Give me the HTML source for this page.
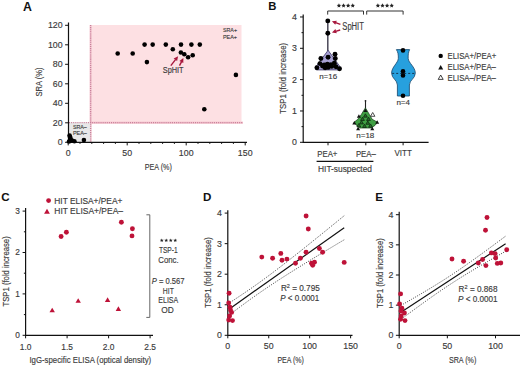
<!DOCTYPE html>
<html><head><meta charset="utf-8"><style>
html,body{margin:0;padding:0;background:#fff;width:520px;height:366px;overflow:hidden}
svg{display:block;font-family:"Liberation Sans", sans-serif}
text{stroke:currentColor;stroke-width:0.15px;paint-order:stroke}
text[font-weight=bold]{stroke-width:0}
</style></head><body>
<svg width="520" height="366" viewBox="0 0 520 366">
<rect width="520" height="366" fill="#fff"/>
<text x="22.90" y="10.50" font-size="12.3" fill="#111" color="#111" font-weight="bold" >A</text>
<rect x="90" y="25" width="151.5" height="98.6" fill="#fde0e3"/>
<rect x="90" y="121.6" width="153" height="2.2" fill="#f4c6d0"/>
<rect x="89.6" y="25" width="2" height="117" fill="#f4c6d0"/>
<rect x="68.5" y="122.5" width="22" height="19.8" fill="#e8e8e8"/>
<line x1="90.60" y1="25.00" x2="90.60" y2="142.00" stroke="#c8809a" stroke-width="1.3" stroke-dasharray="1.05 1.05"/>
<line x1="69.00" y1="122.70" x2="243.00" y2="122.70" stroke="#c8809a" stroke-width="1.3" stroke-dasharray="1.05 1.05"/>
<path d="M68.5 22.5 V142.3 H247" fill="none" stroke="#111" stroke-width="1.2"/>
<line x1="65.10" y1="142.30" x2="68.50" y2="142.30" stroke="#111" stroke-width="1" />
<text x="62.60" y="145.20" font-size="8.8" fill="#3a3a3a" color="#3a3a3a" text-anchor="end" >0</text>
<line x1="65.10" y1="122.80" x2="68.50" y2="122.80" stroke="#111" stroke-width="1" />
<text x="62.60" y="125.70" font-size="8.8" fill="#3a3a3a" color="#3a3a3a" text-anchor="end" >20</text>
<line x1="65.10" y1="103.30" x2="68.50" y2="103.30" stroke="#111" stroke-width="1" />
<text x="62.60" y="106.20" font-size="8.8" fill="#3a3a3a" color="#3a3a3a" text-anchor="end" >40</text>
<line x1="65.10" y1="83.80" x2="68.50" y2="83.80" stroke="#111" stroke-width="1" />
<text x="62.60" y="86.70" font-size="8.8" fill="#3a3a3a" color="#3a3a3a" text-anchor="end" >60</text>
<line x1="65.10" y1="64.30" x2="68.50" y2="64.30" stroke="#111" stroke-width="1" />
<text x="62.60" y="67.20" font-size="8.8" fill="#3a3a3a" color="#3a3a3a" text-anchor="end" >80</text>
<line x1="65.10" y1="44.80" x2="68.50" y2="44.80" stroke="#111" stroke-width="1" />
<text x="62.60" y="47.70" font-size="8.8" fill="#3a3a3a" color="#3a3a3a" text-anchor="end" >100</text>
<line x1="65.10" y1="25.30" x2="68.50" y2="25.30" stroke="#111" stroke-width="1" />
<text x="62.60" y="28.20" font-size="8.8" fill="#3a3a3a" color="#3a3a3a" text-anchor="end" >120</text>
<line x1="68.20" y1="142.40" x2="68.20" y2="145.40" stroke="#111" stroke-width="1" />
<text x="68.20" y="155.90" font-size="8.8" fill="#3a3a3a" color="#3a3a3a" text-anchor="middle" >0</text>
<line x1="80.00" y1="142.40" x2="80.00" y2="143.90" stroke="#111" stroke-width="1" />
<line x1="91.80" y1="142.40" x2="91.80" y2="143.90" stroke="#111" stroke-width="1" />
<line x1="103.60" y1="142.40" x2="103.60" y2="143.90" stroke="#111" stroke-width="1" />
<line x1="115.40" y1="142.40" x2="115.40" y2="143.90" stroke="#111" stroke-width="1" />
<line x1="127.20" y1="142.40" x2="127.20" y2="145.40" stroke="#111" stroke-width="1" />
<text x="127.20" y="155.90" font-size="8.8" fill="#3a3a3a" color="#3a3a3a" text-anchor="middle" >50</text>
<line x1="139.00" y1="142.40" x2="139.00" y2="143.90" stroke="#111" stroke-width="1" />
<line x1="150.80" y1="142.40" x2="150.80" y2="143.90" stroke="#111" stroke-width="1" />
<line x1="162.60" y1="142.40" x2="162.60" y2="143.90" stroke="#111" stroke-width="1" />
<line x1="174.40" y1="142.40" x2="174.40" y2="143.90" stroke="#111" stroke-width="1" />
<line x1="186.20" y1="142.40" x2="186.20" y2="145.40" stroke="#111" stroke-width="1" />
<text x="186.20" y="155.90" font-size="8.8" fill="#3a3a3a" color="#3a3a3a" text-anchor="middle" >100</text>
<line x1="198.00" y1="142.40" x2="198.00" y2="143.90" stroke="#111" stroke-width="1" />
<line x1="209.80" y1="142.40" x2="209.80" y2="143.90" stroke="#111" stroke-width="1" />
<line x1="221.60" y1="142.40" x2="221.60" y2="143.90" stroke="#111" stroke-width="1" />
<line x1="233.40" y1="142.40" x2="233.40" y2="143.90" stroke="#111" stroke-width="1" />
<line x1="245.20" y1="142.40" x2="245.20" y2="145.40" stroke="#111" stroke-width="1" />
<text x="245.20" y="155.90" font-size="8.8" fill="#3a3a3a" color="#3a3a3a" text-anchor="middle" >150</text>
<text x="144.70" y="169.90" font-size="9.5" fill="#3a3a3a" color="#3a3a3a" textLength="27.20" lengthAdjust="spacingAndGlyphs" >PEA (%)</text>
<text transform="translate(38.40,82.00) rotate(-90)" x="0" y="3.42" font-size="9.5" fill="#3a3a3a" color="#3a3a3a" text-anchor="middle" textLength="29.00" lengthAdjust="spacingAndGlyphs">SRA (%)</text>
<text x="223.00" y="32.00" font-size="6" fill="#3a3a3a" color="#3a3a3a" textLength="14.00" lengthAdjust="spacingAndGlyphs" >SRA+</text>
<text x="223.00" y="39.30" font-size="6" fill="#3a3a3a" color="#3a3a3a" textLength="14.00" lengthAdjust="spacingAndGlyphs" >PEA+</text>
<text x="72.90" y="129.40" font-size="6" fill="#3a3a3a" color="#3a3a3a" textLength="13.90" lengthAdjust="spacingAndGlyphs" >SRA–</text>
<text x="72.90" y="134.90" font-size="6" fill="#3a3a3a" color="#3a3a3a" textLength="13.90" lengthAdjust="spacingAndGlyphs" >PEA–</text>
<circle cx="117.70" cy="53.50" r="2.3" fill="#000"/>
<circle cx="132.70" cy="53.50" r="2.3" fill="#000"/>
<circle cx="144.60" cy="44.60" r="2.3" fill="#000"/>
<circle cx="152.70" cy="44.60" r="2.3" fill="#000"/>
<circle cx="165.80" cy="44.60" r="2.3" fill="#000"/>
<circle cx="181.00" cy="44.60" r="2.3" fill="#000"/>
<circle cx="191.40" cy="44.60" r="2.3" fill="#000"/>
<circle cx="199.80" cy="44.60" r="2.3" fill="#000"/>
<circle cx="172.80" cy="49.30" r="2.3" fill="#000"/>
<circle cx="180.90" cy="52.50" r="2.3" fill="#000"/>
<circle cx="184.30" cy="54.20" r="2.3" fill="#000"/>
<circle cx="188.10" cy="57.20" r="2.3" fill="#000"/>
<circle cx="192.70" cy="55.20" r="2.3" fill="#000"/>
<circle cx="146.90" cy="62.10" r="2.3" fill="#000"/>
<circle cx="235.90" cy="74.90" r="2.3" fill="#000"/>
<circle cx="204.30" cy="109.20" r="2.3" fill="#000"/>
<circle cx="69.60" cy="135.60" r="2.3" fill="#000"/>
<circle cx="70.50" cy="138.40" r="2.3" fill="#000"/>
<circle cx="72.00" cy="140.50" r="2.3" fill="#000"/>
<circle cx="74.40" cy="141.30" r="2.3" fill="#000"/>
<circle cx="83.90" cy="140.10" r="2.3" fill="#000"/>
<circle cx="69.00" cy="141.50" r="2.3" fill="#000"/>
<circle cx="70.00" cy="137.00" r="2.3" fill="#000"/>
<text x="162.80" y="73.00" font-size="9.5" fill="#3a3a3a" color="#3a3a3a" textLength="20.80" lengthAdjust="spacingAndGlyphs" >SpHIT</text>
<line x1="170.80" y1="65.60" x2="175.69" y2="59.37" stroke="#a8173d" stroke-width="1.4" />
<polygon points="178.10,56.30 177.11,61.12 173.65,58.40" fill="#a8173d"/>
<line x1="179.50" y1="65.60" x2="181.60" y2="61.56" stroke="#a8173d" stroke-width="1.4" />
<polygon points="183.40,58.10 183.32,63.02 179.42,60.99" fill="#a8173d"/>
<text x="268.20" y="9.80" font-size="11.3" fill="#111" color="#111" font-weight="bold" >B</text>
<path d="M303.2 14.5 V142.3 H428.6" fill="none" stroke="#111" stroke-width="1.2"/>
<line x1="300.00" y1="142.30" x2="303.20" y2="142.30" stroke="#111" stroke-width="1" />
<text x="296.80" y="145.20" font-size="8.8" fill="#3a3a3a" color="#3a3a3a" text-anchor="end" >0</text>
<line x1="301.50" y1="126.64" x2="303.20" y2="126.64" stroke="#111" stroke-width="1" />
<line x1="300.00" y1="110.97" x2="303.20" y2="110.97" stroke="#111" stroke-width="1" />
<text x="296.80" y="113.87" font-size="8.8" fill="#3a3a3a" color="#3a3a3a" text-anchor="end" >1</text>
<line x1="301.50" y1="95.31" x2="303.20" y2="95.31" stroke="#111" stroke-width="1" />
<line x1="300.00" y1="79.64" x2="303.20" y2="79.64" stroke="#111" stroke-width="1" />
<text x="296.80" y="82.54" font-size="8.8" fill="#3a3a3a" color="#3a3a3a" text-anchor="end" >2</text>
<line x1="301.50" y1="63.98" x2="303.20" y2="63.98" stroke="#111" stroke-width="1" />
<line x1="300.00" y1="48.31" x2="303.20" y2="48.31" stroke="#111" stroke-width="1" />
<text x="296.80" y="51.21" font-size="8.8" fill="#3a3a3a" color="#3a3a3a" text-anchor="end" >3</text>
<line x1="301.50" y1="32.65" x2="303.20" y2="32.65" stroke="#111" stroke-width="1" />
<line x1="300.00" y1="16.98" x2="303.20" y2="16.98" stroke="#111" stroke-width="1" />
<text x="296.80" y="19.88" font-size="8.8" fill="#3a3a3a" color="#3a3a3a" text-anchor="end" >4</text>
<line x1="328.00" y1="142.30" x2="328.00" y2="145.30" stroke="#111" stroke-width="1" />
<line x1="365.80" y1="142.30" x2="365.80" y2="145.30" stroke="#111" stroke-width="1" />
<line x1="403.10" y1="142.30" x2="403.10" y2="145.30" stroke="#111" stroke-width="1" />
<text x="317.30" y="156.60" font-size="8.8" fill="#3a3a3a" color="#3a3a3a" textLength="20.10" lengthAdjust="spacingAndGlyphs" >PEA+</text>
<text x="355.90" y="156.60" font-size="8.8" fill="#3a3a3a" color="#3a3a3a" textLength="20.00" lengthAdjust="spacingAndGlyphs" >PEA–</text>
<text x="394.40" y="156.00" font-size="8.8" fill="#3a3a3a" color="#3a3a3a" textLength="17.40" lengthAdjust="spacingAndGlyphs" >VITT</text>
<line x1="316.60" y1="161.40" x2="373.40" y2="161.40" stroke="#111" stroke-width="1.2" />
<text x="318.00" y="171.50" font-size="8.8" fill="#3a3a3a" color="#3a3a3a" textLength="54.00" lengthAdjust="spacingAndGlyphs" >HIT-suspected</text>
<text transform="translate(282.90,78.30) rotate(-90)" x="0" y="3.53" font-size="9.8" fill="#3a3a3a" color="#3a3a3a" text-anchor="middle" textLength="70.80" lengthAdjust="spacingAndGlyphs">TSP1 (fold increase)</text>
<path d="M327.7 14.6 V11 H363.5 V14.6 M366.7 14.6 V11 H403.1 V14.6" fill="none" stroke="#333" stroke-width="1"/>
<polygon points="338.95,3.30 339.60,4.71 341.14,4.89 340.00,5.94 340.30,7.46 338.95,6.70 337.60,7.46 337.90,5.94 336.76,4.89 338.30,4.71" fill="#222"/>
<polygon points="343.55,3.30 344.20,4.71 345.74,4.89 344.60,5.94 344.90,7.46 343.55,6.70 342.20,7.46 342.50,5.94 341.36,4.89 342.90,4.71" fill="#222"/>
<polygon points="348.15,3.30 348.80,4.71 350.34,4.89 349.20,5.94 349.50,7.46 348.15,6.70 346.80,7.46 347.10,5.94 345.96,4.89 347.50,4.71" fill="#222"/>
<polygon points="352.75,3.30 353.40,4.71 354.94,4.89 353.80,5.94 354.10,7.46 352.75,6.70 351.40,7.46 351.70,5.94 350.56,4.89 352.10,4.71" fill="#222"/>
<polygon points="377.90,3.30 378.55,4.71 380.09,4.89 378.95,5.94 379.25,7.46 377.90,6.70 376.55,7.46 376.85,5.94 375.71,4.89 377.25,4.71" fill="#222"/>
<polygon points="382.50,3.30 383.15,4.71 384.69,4.89 383.55,5.94 383.85,7.46 382.50,6.70 381.15,7.46 381.45,5.94 380.31,4.89 381.85,4.71" fill="#222"/>
<polygon points="387.10,3.30 387.75,4.71 389.29,4.89 388.15,5.94 388.45,7.46 387.10,6.70 385.75,7.46 386.05,5.94 384.91,4.89 386.45,4.71" fill="#222"/>
<polygon points="391.70,3.30 392.35,4.71 393.89,4.89 392.75,5.94 393.05,7.46 391.70,6.70 390.35,7.46 390.65,5.94 389.51,4.89 391.05,4.71" fill="#222"/>
<line x1="327.80" y1="20.90" x2="327.80" y2="51.00" stroke="#4a4858" stroke-width="1.5" />
<path d="M328.1 50.3 L315.4 67.4 Q315 69.8 317 69.9 L339.5 69.9 Q341.6 69.6 341.1 68.2 Z" fill="#a7a1d4" stroke="#3b3566" stroke-width="0.8"/>
<circle cx="327.80" cy="20.90" r="2.45" fill="#000"/>
<circle cx="327.80" cy="33.30" r="2.45" fill="#000"/>
<circle cx="328.10" cy="57.20" r="2.45" fill="#000"/>
<circle cx="320.90" cy="58.50" r="2.45" fill="#000"/>
<circle cx="335.00" cy="54.20" r="2.45" fill="#000"/>
<circle cx="335.30" cy="58.50" r="2.45" fill="#000"/>
<circle cx="316.90" cy="67.70" r="2.45" fill="#000"/>
<circle cx="339.50" cy="68.80" r="2.45" fill="#000"/>
<circle cx="322.50" cy="66.00" r="2.45" fill="#000"/>
<circle cx="327.40" cy="64.30" r="2.45" fill="#000"/>
<circle cx="328.10" cy="67.40" r="2.45" fill="#000"/>
<circle cx="331.70" cy="66.40" r="2.45" fill="#000"/>
<circle cx="325.10" cy="67.70" r="2.45" fill="#000"/>
<circle cx="334.30" cy="63.30" r="2.45" fill="#000"/>
<circle cx="319.90" cy="63.60" r="2.45" fill="#000"/>
<circle cx="336.00" cy="66.80" r="2.45" fill="#000"/>
<circle cx="324.20" cy="65.00" r="2.45" fill="#000"/>
<circle cx="331.00" cy="64.80" r="2.45" fill="#000"/>
<text x="342.30" y="30.40" font-size="10" fill="#3a3a3a" color="#3a3a3a" textLength="21.60" lengthAdjust="spacingAndGlyphs" >SpHIT</text>
<line x1="340.40" y1="24.40" x2="335.56" y2="22.64" stroke="#a8173d" stroke-width="1.4" />
<polygon points="331.90,21.30 336.79,20.74 335.28,24.87" fill="#a8173d"/>
<line x1="340.20" y1="30.00" x2="335.63" y2="31.38" stroke="#a8173d" stroke-width="1.4" />
<polygon points="331.90,32.50 335.48,29.12 336.75,33.34" fill="#a8173d"/>
<text x="328.20" y="79.00" font-size="8" fill="#3a3a3a" color="#3a3a3a" text-anchor="middle" >n=16</text>
<line x1="365.50" y1="100.60" x2="365.50" y2="108.50" stroke="#222" stroke-width="1.1" />
<circle cx="365.50" cy="100.80" r="0.9" fill="#222"/>
<path d="M365.4 107.8 L361.3 114.5 L357.8 119.3 L354 122.3 L356.6 125.4 L359.7 128 L371.1 128 L375 125.4 L377.6 122.3 L372.2 119.3 L369.4 114.5 Z" fill="#3f9f43" stroke="#1a3f1b" stroke-width="0.7"/>
<polygon points="363.50,117.15 367.30,117.15 365.40,113.85" fill="#2a6e2d" stroke="#0f2a10" stroke-width="0.8"/>
<polygon points="359.60,123.95 363.40,123.95 361.50,120.65" fill="#2a6e2d" stroke="#0f2a10" stroke-width="0.8"/>
<polygon points="365.90,124.25 369.70,124.25 367.80,120.95" fill="#2a6e2d" stroke="#0f2a10" stroke-width="0.8"/>
<polygon points="362.60,127.45 366.40,127.45 364.50,124.15" fill="#2a6e2d" stroke="#0f2a10" stroke-width="0.8"/>
<polygon points="360.60,120.45 364.40,120.45 362.50,117.15" fill="#2a6e2d" stroke="#0f2a10" stroke-width="0.8"/>
<polygon points="366.60,120.45 370.40,120.45 368.50,117.15" fill="#2a6e2d" stroke="#0f2a10" stroke-width="0.8"/>
<polygon points="368.60,127.25 372.40,127.25 370.50,123.95" fill="#2a6e2d" stroke="#0f2a10" stroke-width="0.8"/>
<polygon points="356.90,126.85 360.70,126.85 358.80,123.55" fill="#2a6e2d" stroke="#0f2a10" stroke-width="0.8"/>
<polygon points="356.90,117.64 360.90,117.64 358.90,114.16" fill="#111"/>
<polygon points="352.30,124.44 356.30,124.44 354.30,120.96" fill="#111"/>
<polygon points="375.20,123.74 379.20,123.74 377.20,120.26" fill="#111"/>
<polygon points="356.10,130.24 360.10,130.24 358.10,126.76" fill="#111"/>
<polygon points="370.30,130.24 374.30,130.24 372.30,126.76" fill="#111"/>
<polygon points="363.40,112.04 367.40,112.04 365.40,108.56" fill="#111"/>
<polygon points="370.50,116.31 374.90,116.31 372.70,112.49" fill="#fff" stroke="#222" stroke-width="0.8"/>
<text x="365.30" y="137.80" font-size="8" fill="#3a3a3a" color="#3a3a3a" text-anchor="middle" >n=18</text>
<path d="M396.4 49.6 H409.6 C408.4 52 408 55 408.2 58.5 C408.5 63 415.3 67 415.3 73.1 C415.3 78.5 409.5 80 409.4 85 V96 H397.4 V85 C397.3 80 391.6 78.5 391.6 73.1 C391.6 67 398.1 63 398.3 58.5 C398.5 55 398 52 396.4 49.6 Z" fill="#27a0de" stroke="#17456b" stroke-width="0.8"/>
<line x1="392.20" y1="73.40" x2="414.80" y2="73.40" stroke="#12344f" stroke-width="1" stroke-dasharray="2 2"/>
<circle cx="403.00" cy="50.40" r="2.3" fill="#000"/>
<circle cx="403.00" cy="71.30" r="2.3" fill="#000"/>
<circle cx="403.00" cy="75.40" r="2.3" fill="#000"/>
<circle cx="403.00" cy="95.80" r="2.3" fill="#000"/>
<text x="403.20" y="105.10" font-size="8" fill="#3a3a3a" color="#3a3a3a" text-anchor="middle" >n=4</text>
<circle cx="440.70" cy="55.90" r="2.2" fill="#000"/>
<text x="447.50" y="59.00" font-size="8.8" fill="#3a3a3a" color="#3a3a3a" textLength="48.80" lengthAdjust="spacingAndGlyphs" >ELISA+/PEA+</text>
<polygon points="438.20,69.47 443.20,69.47 440.70,65.12" fill="#111"/>
<text x="447.50" y="70.00" font-size="8.8" fill="#3a3a3a" color="#3a3a3a" textLength="48.40" lengthAdjust="spacingAndGlyphs" >ELISA+/PEA–</text>
<polygon points="438.20,79.38 443.20,79.38 440.70,75.03" fill="#fff" stroke="#111" stroke-width="0.8"/>
<text x="447.50" y="80.70" font-size="8.8" fill="#3a3a3a" color="#3a3a3a" textLength="48.40" lengthAdjust="spacingAndGlyphs" >ELISA–/PEA–</text>
<text x="1.20" y="201.00" font-size="11.6" fill="#111" color="#111" font-weight="bold" >C</text>
<path d="M25.6 208 V335.3 H153" fill="none" stroke="#111" stroke-width="1.2"/>
<line x1="22.60" y1="335.30" x2="25.60" y2="335.30" stroke="#111" stroke-width="1" />
<text x="19.90" y="338.00" font-size="8.3" fill="#3a3a3a" color="#3a3a3a" text-anchor="end" >0</text>
<line x1="23.90" y1="314.60" x2="25.60" y2="314.60" stroke="#111" stroke-width="1" />
<line x1="22.60" y1="293.90" x2="25.60" y2="293.90" stroke="#111" stroke-width="1" />
<text x="19.90" y="296.60" font-size="8.3" fill="#3a3a3a" color="#3a3a3a" text-anchor="end" >1</text>
<line x1="23.90" y1="273.20" x2="25.60" y2="273.20" stroke="#111" stroke-width="1" />
<line x1="22.60" y1="252.50" x2="25.60" y2="252.50" stroke="#111" stroke-width="1" />
<text x="19.90" y="255.20" font-size="8.3" fill="#3a3a3a" color="#3a3a3a" text-anchor="end" >2</text>
<line x1="23.90" y1="231.80" x2="25.60" y2="231.80" stroke="#111" stroke-width="1" />
<line x1="22.60" y1="211.10" x2="25.60" y2="211.10" stroke="#111" stroke-width="1" />
<text x="19.90" y="213.80" font-size="8.3" fill="#3a3a3a" color="#3a3a3a" text-anchor="end" >3</text>
<line x1="25.60" y1="335.30" x2="25.60" y2="338.30" stroke="#111" stroke-width="1" />
<text x="25.60" y="349.90" font-size="8.4" fill="#3a3a3a" color="#3a3a3a" text-anchor="middle" >1.0</text>
<line x1="67.10" y1="335.30" x2="67.10" y2="338.30" stroke="#111" stroke-width="1" />
<text x="67.10" y="349.90" font-size="8.4" fill="#3a3a3a" color="#3a3a3a" text-anchor="middle" >1.5</text>
<line x1="108.60" y1="335.30" x2="108.60" y2="338.30" stroke="#111" stroke-width="1" />
<text x="108.60" y="349.90" font-size="8.4" fill="#3a3a3a" color="#3a3a3a" text-anchor="middle" >2.0</text>
<line x1="150.10" y1="335.30" x2="150.10" y2="338.30" stroke="#111" stroke-width="1" />
<text x="150.10" y="349.90" font-size="8.4" fill="#3a3a3a" color="#3a3a3a" text-anchor="middle" >2.5</text>
<text x="29.40" y="363.40" font-size="9.5" fill="#3a3a3a" color="#3a3a3a" textLength="121.80" lengthAdjust="spacingAndGlyphs" >IgG-specific ELISA (optical density)</text>
<text transform="translate(5.60,271.40) rotate(-90)" x="0" y="3.53" font-size="9.8" fill="#3a3a3a" color="#3a3a3a" text-anchor="middle" textLength="70.20" lengthAdjust="spacingAndGlyphs">TSP1 (fold increase)</text>
<circle cx="48.60" cy="200.60" r="2.4" fill="#be1238"/>
<text x="54.30" y="203.60" font-size="9" fill="#3a3a3a" color="#3a3a3a" textLength="68.10" lengthAdjust="spacingAndGlyphs" >HIT ELISA+/PEA+</text>
<polygon points="44.10,213.72 49.90,213.72 47.00,208.68" fill="#be1238"/>
<text x="54.30" y="214.00" font-size="9" fill="#3a3a3a" color="#3a3a3a" textLength="68.70" lengthAdjust="spacingAndGlyphs" >HIT ELISA+/PEA–</text>
<circle cx="61.10" cy="236.50" r="2.45" fill="#be1238"/>
<circle cx="66.40" cy="232.30" r="2.45" fill="#be1238"/>
<circle cx="121.40" cy="222.20" r="2.45" fill="#be1238"/>
<circle cx="132.40" cy="228.70" r="2.45" fill="#be1238"/>
<circle cx="132.00" cy="235.90" r="2.45" fill="#be1238"/>
<polygon points="49.50,312.35 54.90,312.35 52.20,307.65" fill="#be1238"/>
<polygon points="75.50,302.85 80.90,302.85 78.20,298.15" fill="#be1238"/>
<polygon points="104.90,302.05 110.30,302.05 107.60,297.35" fill="#be1238"/>
<polygon points="115.70,310.95 121.10,310.95 118.40,306.25" fill="#be1238"/>
<path d="M146.4 214.8 H149.8 V317.4 H146.3" fill="none" stroke="#666" stroke-width="1"/>
<polygon points="161.75,238.40 162.28,239.67 163.65,239.78 162.61,240.68 162.93,242.02 161.75,241.30 160.57,242.02 160.89,240.68 159.85,239.78 161.22,239.67" fill="#222"/>
<polygon points="166.25,238.40 166.78,239.67 168.15,239.78 167.11,240.68 167.43,242.02 166.25,241.30 165.07,242.02 165.39,240.68 164.35,239.78 165.72,239.67" fill="#222"/>
<polygon points="170.75,238.40 171.28,239.67 172.65,239.78 171.61,240.68 171.93,242.02 170.75,241.30 169.57,242.02 169.89,240.68 168.85,239.78 170.22,239.67" fill="#222"/>
<polygon points="175.25,238.40 175.78,239.67 177.15,239.78 176.11,240.68 176.43,242.02 175.25,241.30 174.07,242.02 174.39,240.68 173.35,239.78 174.72,239.67" fill="#222"/>
<text x="158.90" y="252.90" font-size="8.8" fill="#3a3a3a" color="#3a3a3a" textLength="18.80" lengthAdjust="spacingAndGlyphs" >TSP-1</text>
<text x="158.30" y="262.60" font-size="8.8" fill="#3a3a3a" color="#3a3a3a" textLength="20.40" lengthAdjust="spacingAndGlyphs" >Conc.</text>
<text x="151.7" y="284.0" font-size="8.8" fill="#3a3a3a" color="#3a3a3a" textLength="32.9" lengthAdjust="spacingAndGlyphs"><tspan font-style="italic">P</tspan> = 0.567</text>
<text x="162.80" y="293.70" font-size="8.8" fill="#3a3a3a" color="#3a3a3a" textLength="11.00" lengthAdjust="spacingAndGlyphs" >HIT</text>
<text x="158.30" y="303.30" font-size="8.8" fill="#3a3a3a" color="#3a3a3a" textLength="19.90" lengthAdjust="spacingAndGlyphs" >ELISA</text>
<text x="161.30" y="312.90" font-size="8.8" fill="#3a3a3a" color="#3a3a3a" textLength="12.50" lengthAdjust="spacingAndGlyphs" >OD</text>
<text x="203.00" y="201.00" font-size="11.6" fill="#111" color="#111" font-weight="bold" >D</text>
<path d="M227.8 210.3 V335.3 H352.5" fill="none" stroke="#111" stroke-width="1.2"/>
<line x1="224.70" y1="335.30" x2="227.80" y2="335.30" stroke="#111" stroke-width="1" />
<text x="221.80" y="338.20" font-size="8.8" fill="#3a3a3a" color="#3a3a3a" text-anchor="end" >0</text>
<line x1="224.70" y1="304.75" x2="227.80" y2="304.75" stroke="#111" stroke-width="1" />
<text x="221.80" y="307.65" font-size="8.8" fill="#3a3a3a" color="#3a3a3a" text-anchor="end" >1</text>
<line x1="224.70" y1="274.20" x2="227.80" y2="274.20" stroke="#111" stroke-width="1" />
<text x="221.80" y="277.10" font-size="8.8" fill="#3a3a3a" color="#3a3a3a" text-anchor="end" >2</text>
<line x1="224.70" y1="243.65" x2="227.80" y2="243.65" stroke="#111" stroke-width="1" />
<text x="221.80" y="246.55" font-size="8.8" fill="#3a3a3a" color="#3a3a3a" text-anchor="end" >3</text>
<line x1="224.70" y1="213.10" x2="227.80" y2="213.10" stroke="#111" stroke-width="1" />
<text x="221.80" y="216.00" font-size="8.8" fill="#3a3a3a" color="#3a3a3a" text-anchor="end" >4</text>
<line x1="227.80" y1="335.30" x2="227.80" y2="338.30" stroke="#111" stroke-width="1" />
<text x="227.80" y="349.20" font-size="8.8" fill="#3a3a3a" color="#3a3a3a" text-anchor="middle" >0</text>
<line x1="268.74" y1="335.30" x2="268.74" y2="338.30" stroke="#111" stroke-width="1" />
<text x="268.74" y="349.20" font-size="8.8" fill="#3a3a3a" color="#3a3a3a" text-anchor="middle" >50</text>
<line x1="309.67" y1="335.30" x2="309.67" y2="338.30" stroke="#111" stroke-width="1" />
<text x="309.67" y="349.20" font-size="8.8" fill="#3a3a3a" color="#3a3a3a" text-anchor="middle" >100</text>
<line x1="350.61" y1="335.30" x2="350.61" y2="338.30" stroke="#111" stroke-width="1" />
<text x="350.61" y="349.20" font-size="8.8" fill="#3a3a3a" color="#3a3a3a" text-anchor="middle" >150</text>
<text x="277.40" y="363.00" font-size="9.5" fill="#3a3a3a" color="#3a3a3a" textLength="26.40" lengthAdjust="spacingAndGlyphs" >PEA (%)</text>
<text transform="translate(207.50,272.50) rotate(-90)" x="0" y="3.53" font-size="9.8" fill="#3a3a3a" color="#3a3a3a" text-anchor="middle" textLength="70.60" lengthAdjust="spacingAndGlyphs">TSP1 (fold increase)</text>
<polyline points="230.00,302.48 232.85,300.63 235.71,298.76 238.56,296.87 241.42,294.97 244.28,293.04 247.13,291.10 249.98,289.13 252.84,287.14 255.69,285.13 258.55,283.09 261.40,281.03 264.26,278.95 267.12,276.85 269.97,274.72 272.82,272.58 275.68,270.42 278.53,268.24 281.39,266.04 284.25,263.84 287.10,261.61 289.95,259.38 292.81,257.14 295.66,254.88 298.52,252.62 301.38,250.35 304.23,248.07 307.08,245.79 309.94,243.50 312.79,241.20 315.65,238.90 318.50,236.59 321.36,234.29 324.21,231.97 327.07,229.66 329.92,227.34 332.78,225.02 335.63,222.69 338.49,220.36 341.34,218.03 344.20,215.70" fill="none" stroke="#333" stroke-width="0.9" stroke-dasharray="1 1.3"/>
<polyline points="230.00,314.52 232.85,312.33 235.71,310.16 238.56,308.01 241.42,305.87 244.28,303.76 247.13,301.67 249.98,299.59 252.84,297.55 255.69,295.52 258.55,293.52 261.40,291.54 264.26,289.58 267.12,287.65 269.97,285.73 272.82,283.84 275.68,281.96 278.53,280.10 281.39,278.26 284.25,276.43 287.10,274.61 289.95,272.80 292.81,271.01 295.66,269.22 298.52,267.45 301.38,265.68 304.23,263.92 307.08,262.17 309.94,260.42 312.79,258.67 315.65,256.94 318.50,255.20 321.36,253.47 324.21,251.75 327.07,250.02 329.92,248.31 332.78,246.59 335.63,244.87 338.49,243.16 341.34,241.45 344.20,239.75" fill="none" stroke="#333" stroke-width="0.9" stroke-dasharray="1 1.3"/>
<line x1="231.50" y1="307.44" x2="344.20" y2="227.72" stroke="#111" stroke-width="1.2" />
<circle cx="261.80" cy="257.10" r="2.45" fill="#be1238"/>
<circle cx="272.60" cy="258.30" r="2.45" fill="#be1238"/>
<circle cx="280.80" cy="253.40" r="2.45" fill="#be1238"/>
<circle cx="282.00" cy="260.30" r="2.45" fill="#be1238"/>
<circle cx="286.90" cy="259.10" r="2.45" fill="#be1238"/>
<circle cx="295.50" cy="263.20" r="2.45" fill="#be1238"/>
<circle cx="300.40" cy="258.30" r="2.45" fill="#be1238"/>
<circle cx="306.10" cy="216.00" r="2.45" fill="#be1238"/>
<circle cx="308.30" cy="229.00" r="2.45" fill="#be1238"/>
<circle cx="306.10" cy="252.20" r="2.45" fill="#be1238"/>
<circle cx="311.50" cy="263.20" r="2.45" fill="#be1238"/>
<circle cx="314.50" cy="262.30" r="2.45" fill="#be1238"/>
<circle cx="312.70" cy="265.20" r="2.45" fill="#be1238"/>
<circle cx="319.40" cy="248.50" r="2.45" fill="#be1238"/>
<circle cx="322.60" cy="252.20" r="2.45" fill="#be1238"/>
<circle cx="344.20" cy="262.40" r="2.45" fill="#be1238"/>
<circle cx="229.10" cy="293.30" r="2.45" fill="#be1238"/>
<circle cx="228.70" cy="302.90" r="2.45" fill="#be1238"/>
<circle cx="230.00" cy="307.30" r="2.45" fill="#be1238"/>
<circle cx="231.60" cy="312.40" r="2.45" fill="#be1238"/>
<circle cx="229.60" cy="315.90" r="2.45" fill="#be1238"/>
<circle cx="232.50" cy="320.60" r="2.45" fill="#be1238"/>
<circle cx="228.70" cy="320.00" r="2.45" fill="#be1238"/>
<circle cx="230.50" cy="310.00" r="2.45" fill="#be1238"/>
<text x="280.9" y="290.7" font-size="8.3" fill="#3a3a3a" color="#3a3a3a" textLength="38.9" lengthAdjust="spacingAndGlyphs">R<tspan font-size="5.6" dy="-2.6">2</tspan><tspan dy="2.6"> = 0.795</tspan></text>
<text x="280.3" y="300.9" font-size="8.3" fill="#3a3a3a" color="#3a3a3a" textLength="39.0" lengthAdjust="spacingAndGlyphs"><tspan font-style="italic">P</tspan> &lt; 0.0001</text>
<text x="375.20" y="201.20" font-size="11.6" fill="#111" color="#111" font-weight="bold" >E</text>
<path d="M399.2 211.8 V335.3 H520" fill="none" stroke="#111" stroke-width="1.2"/>
<line x1="395.90" y1="335.30" x2="399.20" y2="335.30" stroke="#111" stroke-width="1" />
<text x="393.40" y="338.20" font-size="8.8" fill="#3a3a3a" color="#3a3a3a" text-anchor="end" >0</text>
<line x1="395.90" y1="305.15" x2="399.20" y2="305.15" stroke="#111" stroke-width="1" />
<text x="393.40" y="308.05" font-size="8.8" fill="#3a3a3a" color="#3a3a3a" text-anchor="end" >1</text>
<line x1="395.90" y1="275.00" x2="399.20" y2="275.00" stroke="#111" stroke-width="1" />
<text x="393.40" y="277.90" font-size="8.8" fill="#3a3a3a" color="#3a3a3a" text-anchor="end" >2</text>
<line x1="395.90" y1="244.85" x2="399.20" y2="244.85" stroke="#111" stroke-width="1" />
<text x="393.40" y="247.75" font-size="8.8" fill="#3a3a3a" color="#3a3a3a" text-anchor="end" >3</text>
<line x1="395.90" y1="214.70" x2="399.20" y2="214.70" stroke="#111" stroke-width="1" />
<text x="393.40" y="217.60" font-size="8.8" fill="#3a3a3a" color="#3a3a3a" text-anchor="end" >4</text>
<line x1="399.20" y1="335.30" x2="399.20" y2="338.30" stroke="#111" stroke-width="1" />
<text x="399.20" y="349.00" font-size="8.8" fill="#3a3a3a" color="#3a3a3a" text-anchor="middle" >0</text>
<line x1="447.35" y1="335.30" x2="447.35" y2="338.30" stroke="#111" stroke-width="1" />
<text x="447.35" y="349.00" font-size="8.8" fill="#3a3a3a" color="#3a3a3a" text-anchor="middle" >50</text>
<line x1="495.50" y1="335.30" x2="495.50" y2="338.30" stroke="#111" stroke-width="1" />
<text x="495.50" y="349.00" font-size="8.8" fill="#3a3a3a" color="#3a3a3a" text-anchor="middle" >100</text>
<text x="448.90" y="363.00" font-size="9.5" fill="#3a3a3a" color="#3a3a3a" textLength="27.40" lengthAdjust="spacingAndGlyphs" >SRA (%)</text>
<text transform="translate(379.10,273.10) rotate(-90)" x="0" y="3.53" font-size="9.8" fill="#3a3a3a" color="#3a3a3a" text-anchor="middle" textLength="69.60" lengthAdjust="spacingAndGlyphs">TSP1 (fold increase)</text>
<polyline points="401.00,305.35 403.62,303.87 406.23,302.38 408.85,300.88 411.46,299.37 414.07,297.86 416.69,296.34 419.31,294.81 421.92,293.28 424.54,291.73 427.15,290.17 429.76,288.60 432.38,287.01 435.00,285.41 437.61,283.79 440.23,282.16 442.84,280.51 445.45,278.84 448.07,277.15 450.69,275.44 453.30,273.70 455.92,271.95 458.53,270.18 461.15,268.40 463.76,266.59 466.38,264.77 468.99,262.93 471.61,261.08 474.22,259.21 476.84,257.33 479.45,255.45 482.07,253.55 484.68,251.64 487.30,249.72 489.91,247.80 492.53,245.87 495.14,243.93 497.75,241.99 500.37,240.05 502.99,238.10 505.60,236.14" fill="none" stroke="#333" stroke-width="0.9" stroke-dasharray="1 1.3"/>
<polyline points="401.00,319.31 403.62,317.36 406.23,315.42 408.85,313.49 411.46,311.56 414.07,309.64 416.69,307.73 419.31,305.83 421.92,303.94 424.54,302.05 427.15,300.18 429.76,298.32 432.38,296.48 435.00,294.65 437.61,292.83 440.23,291.04 442.84,289.26 445.45,287.50 448.07,285.76 450.69,284.04 453.30,282.34 455.92,280.66 458.53,279.00 461.15,277.35 463.76,275.73 466.38,274.12 468.99,272.53 471.61,270.95 474.22,269.38 476.84,267.83 479.45,266.29 482.07,264.76 484.68,263.23 487.30,261.72 489.91,260.21 492.53,258.71 495.14,257.21 497.75,255.73 500.37,254.24 502.99,252.76 505.60,251.28" fill="none" stroke="#333" stroke-width="0.9" stroke-dasharray="1 1.3"/>
<line x1="402.50" y1="311.35" x2="505.60" y2="243.71" stroke="#111" stroke-width="1.2" />
<circle cx="487.00" cy="217.50" r="2.45" fill="#be1238"/>
<circle cx="485.50" cy="230.20" r="2.45" fill="#be1238"/>
<circle cx="452.00" cy="259.00" r="2.45" fill="#be1238"/>
<circle cx="463.60" cy="261.20" r="2.45" fill="#be1238"/>
<circle cx="478.30" cy="263.00" r="2.45" fill="#be1238"/>
<circle cx="482.60" cy="259.50" r="2.45" fill="#be1238"/>
<circle cx="485.90" cy="265.60" r="2.45" fill="#be1238"/>
<circle cx="491.40" cy="252.90" r="2.45" fill="#be1238"/>
<circle cx="495.10" cy="253.60" r="2.45" fill="#be1238"/>
<circle cx="495.70" cy="258.00" r="2.45" fill="#be1238"/>
<circle cx="497.30" cy="263.40" r="2.45" fill="#be1238"/>
<circle cx="500.80" cy="263.00" r="2.45" fill="#be1238"/>
<circle cx="506.70" cy="249.80" r="2.45" fill="#be1238"/>
<circle cx="400.60" cy="293.90" r="2.45" fill="#be1238"/>
<circle cx="399.60" cy="304.00" r="2.45" fill="#be1238"/>
<circle cx="401.90" cy="308.20" r="2.45" fill="#be1238"/>
<circle cx="404.40" cy="313.00" r="2.45" fill="#be1238"/>
<circle cx="401.20" cy="315.90" r="2.45" fill="#be1238"/>
<circle cx="400.60" cy="319.30" r="2.45" fill="#be1238"/>
<circle cx="405.00" cy="320.60" r="2.45" fill="#be1238"/>
<circle cx="401.00" cy="311.00" r="2.45" fill="#be1238"/>
<text x="458.6" y="291.5" font-size="8.3" fill="#3a3a3a" color="#3a3a3a" textLength="38.9" lengthAdjust="spacingAndGlyphs">R<tspan font-size="5.6" dy="-2.6">2</tspan><tspan dy="2.6"> = 0.868</tspan></text>
<text x="458.0" y="301.6" font-size="8.3" fill="#3a3a3a" color="#3a3a3a" textLength="39.6" lengthAdjust="spacingAndGlyphs"><tspan font-style="italic">P</tspan> &lt; 0.0001</text>
</svg>
</body></html>
